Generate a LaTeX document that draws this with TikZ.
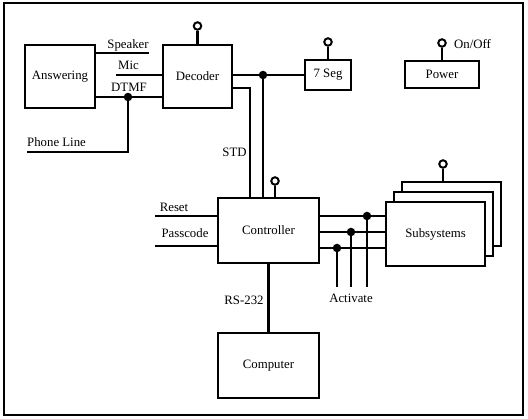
\documentclass[tikz,border=0pt]{standalone}
\usepackage{fontspec}
\setmainfont{Liberation Serif}
\begin{document}
\begin{tikzpicture}[x=1pt,y=-1pt,
  box/.style={draw,line width=2.9pt,fill=white,inner sep=0pt},
  wire/.style={line width=2.6pt},
  ant/.style={circle,draw,line width=2pt,fill=white,minimum size=7.5pt,inner sep=0pt},
  dot/.style={circle,fill=black,minimum size=8.5pt,inner sep=0pt},
  lbl/.style={inner sep=0pt},
  every node/.style={font=\fontsize{12.8}{14}\selectfont}]
\useasboundingbox (0,0) rectangle (528,419);
\draw[line width=1.6pt] (4,3) rectangle (523,415);
% boxes
\node[box,minimum width=70pt,minimum height=63pt] (ans) at (60,76.5) {Answering};
\node[box,minimum width=69pt,minimum height=63pt] (dec) at (197.5,76.5) {Decoder};
\node[box,minimum width=46pt,minimum height=30pt] (seg) at (328,75) {7 Seg};
\node[box,minimum width=74pt,minimum height=27pt] (pow) at (442,74.5) {Power};
\node[box,minimum width=101pt,minimum height=65pt] (ctl) at (268.5,230.5) {Controller};
\node[box,minimum width=99pt,minimum height=64pt] (subc) at (451.5,214) {};
\node[box,minimum width=99pt,minimum height=64pt] (subb) at (443.5,224) {};
\node[box,minimum width=99pt,minimum height=64pt] (sub) at (435.5,234) {Subsystems};
\node[box,minimum width=101pt,minimum height=65pt] (comp) at (268.5,365.5) {Computer};
% antennas
\node[ant] (decA) at (dec.north |- 0,26) {};
\draw[wire] (dec.north) -- (decA);
\node[ant] (segA) at (seg.north |- 0,42) {};
\draw[wire] (seg.north) -- (segA);
\node[ant] (powA) at (pow.north |- 0,43) {};
\draw[wire] (pow.north) -- (powA);
\node[ant] (ctlA) at (275,181) {};
\draw[wire] (ctlA |- ctl.north) -- (ctlA);
\node[ant] (subA) at (443,164) {};
\draw[wire] (subA |- subc.north) -- (subA);
% answering - decoder
\coordinate (spk) at (149,53);
\draw[wire] (ans.east |- spk) -- (spk);
\coordinate (mic) at (116,75);
\draw[wire] (mic) -- (mic -| dec.west);
\coordinate (dtmf) at (128,97);
\draw[wire] (ans.east |- dtmf) -- (dec.west |- dtmf);
\coordinate (ph) at (27,152);
\draw[wire] (ph) -- (ph -| dtmf) -- (dtmf);
\node[dot] at (dtmf) {};
% decoder - 7seg / controller
\coordinate (j1) at (263,75);
\draw[wire] (dec.east |- seg.west) -- (seg.west);
\draw[wire] (j1) -- (j1 |- ctl.north);
\node[dot] at (j1) {};
\coordinate (std) at (250,88);
\draw[wire] (dec.east |- std) -- (std) -- (std |- ctl.north);
% controller inputs
\coordinate (rst) at (155,216);
\draw[wire] (rst) -- (rst -| ctl.west);
\coordinate (pc) at (155,246);
\draw[wire] (pc) -- (pc -| ctl.west);
% controller outputs
\coordinate (o1) at (367,216);
\coordinate (o2) at (351,232);
\coordinate (o3) at (337,248);
\foreach \o in {o1,o2,o3}{
  \draw[wire] (ctl.east |- \o) -- (sub.west |- \o);
  \draw[wire] (\o) -- (\o |- 0,287);
  \node[dot] at (\o) {};
}
% rs-232
\draw[wire] (ctl.south) -- (comp.north);
% labels
\node[lbl] at (128,45) {Speaker};
\node[lbl] at (128.5,65) {Mic};
\node[lbl] at (129,87) {DTMF};
\node[lbl,anchor=west] at (27,142) {Phone Line};
\node[lbl] at (234.5,152) {STD};
\node[lbl] at (472.5,44) {On/Off};
\node[lbl] at (174,207) {Reset};
\node[lbl] at (185,233) {Passcode};
\node[lbl] at (351,298) {Activate};
\node[lbl] at (244,300) {RS-232};
\end{tikzpicture}
\end{document}
